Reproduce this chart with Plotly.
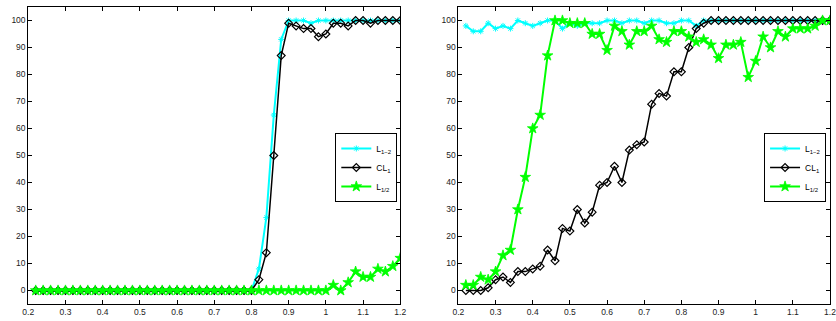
import plotly.graph_objects as go

x = [round(0.22 + 0.02 * i, 2) for i in range(50)]

# Left panel
left_L12 = [0]*30 + [8, 27, 65, 93, 100, 100, 100, 99, 100, 100,
                     100, 100, 100, 100, 100, 100, 100, 100, 100, 100]
left_CL1 = [0]*30 + [4, 14, 50, 87, 99, 98, 97, 97, 94, 95,
                     99, 99, 98, 100, 100, 99, 100, 100, 100, 100]
left_Lhalf = [0]*40 + [2, 0, 3, 7, 5, 5, 8, 7, 9, 12]

# Right panel
right_L12 = [98, 96, 96, 99, 97, 98, 97, 100, 99, 98,
             99, 100, 100, 97, 99, 98, 99, 99, 99, 100,
             100, 99, 100, 100, 99, 100, 100, 99, 99, 100,
             100, 98, 100, 100, 100, 100, 100, 100, 100, 100,
             100, 100, 100, 100, 100, 100, 100, 100, 100, 100]
right_CL1 = [0, 0, 0, 1, 4, 5, 3, 7, 7, 8,
             9, 15, 11, 23, 22, 30, 25, 29, 39, 40,
             46, 40, 52, 54, 55, 69, 73, 72, 81, 81,
             90, 97, 99, 100, 100, 100, 100, 100, 100, 100,
             100, 100, 100, 100, 100, 100, 100, 100, 100, 100]
right_Lhalf = [2, 2, 5, 4, 7, 13, 15, 30, 42, 60,
               65, 87, 100, 100, 99, 99, 99, 95, 95, 89,
               98, 96, 91, 96, 96, 98, 93, 92, 96, 96,
               94, 92, 93, 91, 86, 91, 91, 92, 79, 85,
               94, 90, 96, 94, 97, 97, 97, 98, 100, 100]

names = ["L<sub>1\u22122</sub>", "CL<sub>1</sub>", "L<sub>1/2</sub>"]
xticks = [0.2, 0.3, 0.4, 0.5, 0.6, 0.7, 0.8, 0.9, 1.0, 1.1, 1.2]
xticktext = ["0.2", "0.3", "0.4", "0.5", "0.6", "0.7", "0.8", "0.9", "1", "1.1", "1.2"]
yticks = [0, 10, 20, 30, 40, 50, 60, 70, 80, 90, 100]

CYAN = "#00ffff"
BLACK = "#000000"
GREEN = "#00ff00"

fig = go.Figure()

def add_panel(ys, xa, ya, leg):
    styles = [
        dict(color=CYAN, lw=2, sym="asterisk-open", size=5, mlw=1),
        dict(color=BLACK, lw=1.5, sym="diamond-open", size=6, mlw=1.2),
        dict(color=GREEN, lw=2, sym="star", size=8, mlw=0.8),
    ]
    for y, nm, st in zip(ys, names, styles):
        fig.add_trace(go.Scatter(
            x=x, y=y, name=nm, mode="lines+markers",
            xaxis=xa, yaxis=ya, legend=leg,
            line=dict(color=st["color"], width=st["lw"]),
            marker=dict(symbol=st["sym"], size=st["size"], color=st["color"],
                        line=dict(color=st["color"], width=st["mlw"])),
        ))

add_panel([left_L12, left_CL1, left_Lhalf], "x", "y", "legend")
add_panel([right_L12, right_CL1, right_Lhalf], "x2", "y2", "legend2")

ax_common = dict(showline=True, linecolor="black", linewidth=1, mirror="ticks",
                 ticks="inside", ticklen=4, tickcolor="black", showgrid=False,
                 zeroline=False, tickfont=dict(family="Liberation Sans", size=8.5, color="#222"))

ydom = [1 - 304/321, 1 - 7/321]
legfont = dict(family="Liberation Sans", size=8.5, color="black")
fig.update_layout(
    width=836, height=321,
    margin=dict(l=0, r=0, t=0, b=0),
    paper_bgcolor="white", plot_bgcolor="white",
    xaxis=dict(domain=[22.6/836, 400/836], range=[0.2, 1.2], tickvals=xticks,
               ticktext=xticktext, anchor="y", **ax_common),
    yaxis=dict(domain=ydom, range=[-5, 105], tickvals=yticks, anchor="x", **ax_common),
    xaxis2=dict(domain=[459/836, 1.0], range=[0.2, 1.2], tickvals=xticks,
                ticktext=xticktext, anchor="y2", ticklabeloverflow="allow", **ax_common),
    yaxis2=dict(domain=ydom, range=[-5, 105], tickvals=yticks, anchor="x2", **ax_common),
    legend=dict(x=397/836, y=1 - 133/321, xanchor="right", yanchor="top",
                bordercolor="black", borderwidth=1, bgcolor="white",
                font=legfont, itemwidth=30, tracegroupgap=0),
    legend2=dict(x=832/836, y=1 - 133/321, xanchor="right", yanchor="top",
                 bordercolor="black", borderwidth=1, bgcolor="white",
                 font=legfont, itemwidth=30, tracegroupgap=0),
    showlegend=True,
)

fig.write_html("out.html")
